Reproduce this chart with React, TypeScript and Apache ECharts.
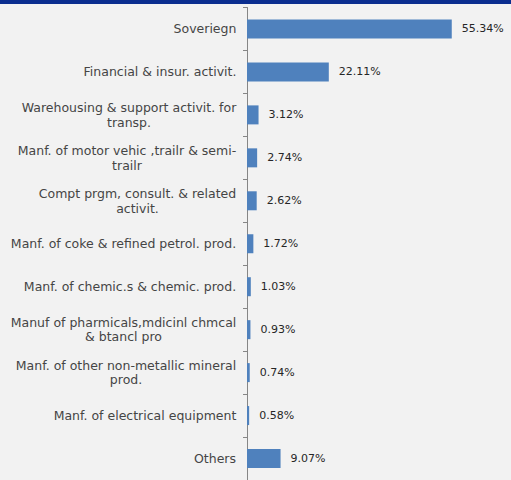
import React, { useEffect, useRef } from "react";
import * as echarts from "echarts";

const categories = [
  "Soveriegn",
  "Financial & insur. activit.",
  "Warehousing & support activit. for\ntransp.",
  "Manf. of motor vehic ,trailr & semi-\ntrailr",
  "Compt prgm, consult. & related\nactivit.",
  "Manf. of coke & refined petrol. prod.",
  "Manf. of chemic.s & chemic. prod.",
  "Manuf of pharmicals,mdicinl chmcal\n& btancl pro",
  "Manf. of other non-metallic mineral\nprod.",
  "Manf. of electrical equipment",
  "Others",
];

const values = [55.34, 22.11, 3.12, 2.74, 2.62, 1.72, 1.03, 0.93, 0.74, 0.58, 9.07];

const FONT = "DejaVu Sans";
const CAT_SIZE = 12.5;

export default function App() {
  const ref = useRef<HTMLDivElement>(null);
  useEffect(() => {
    if (!ref.current) return;
    const chart = echarts.init(ref.current, undefined, { renderer: "svg" });
    const ctx = document.createElement("canvas").getContext("2d")!;
    ctx.font = `${CAT_SIZE}px "${FONT}"`;
    const rich: Record<string, any> = {};
    categories.forEach((c, i) => {
      const w = Math.max(...c.split("\n").map((l) => ctx.measureText(l).width));
      rich["l" + i] = {
        width: Math.ceil(w) + 1,
        align: "center",
        fontSize: CAT_SIZE,
        fontFamily: FONT,
        color: "#454545",
        lineHeight: 14.5,
      };
    });
    chart.setOption({
      animation: false,
      backgroundColor: "#f2f2f2",
      textStyle: { fontFamily: FONT },
      graphic: [
        { type: "rect", shape: { x: 0, y: 0, width: 511, height: 4 }, style: { fill: "#0a2d8f" } },
      ],
      grid: { left: 247, right: 42, top: 7.5, bottom: -7.5, containLabel: false },
      xAxis: { type: "value", min: 0, max: 60, show: false },
      yAxis: {
        type: "category",
        data: categories,
        inverse: true,
        axisLine: { show: true, lineStyle: { color: "#868686", width: 1 } },
        axisTick: { show: true, length: 4, lineStyle: { color: "#868686" } },
        axisLabel: {
          color: "#454545",
          fontSize: CAT_SIZE,
          margin: 10,
          align: "right",
          lineHeight: 14.5,
          fontFamily: FONT,
          formatter: (v: string, i: number) =>
            v
              .split("\n")
              .map((l) => `{l${i}|${l}}`)
              .join("\n"),
          rich,
        },
        splitLine: { show: false },
      },
      series: [
        {
          type: "bar",
          data: values,
          barWidth: 19,
          itemStyle: { color: "#4f81bd" },
          label: {
            show: true,
            position: "right",
            distance: 10,
            formatter: (p: any) => p.value.toFixed(2) + "%",
            color: "#262626",
            fontSize: 11,
            fontFamily: FONT,
          },
        },
      ],
    });
    return () => chart.dispose();
  }, []);
  return <div ref={ref} style={{ position: "fixed", left: 0, top: 0, width: 511, height: 480 }} />;
}
